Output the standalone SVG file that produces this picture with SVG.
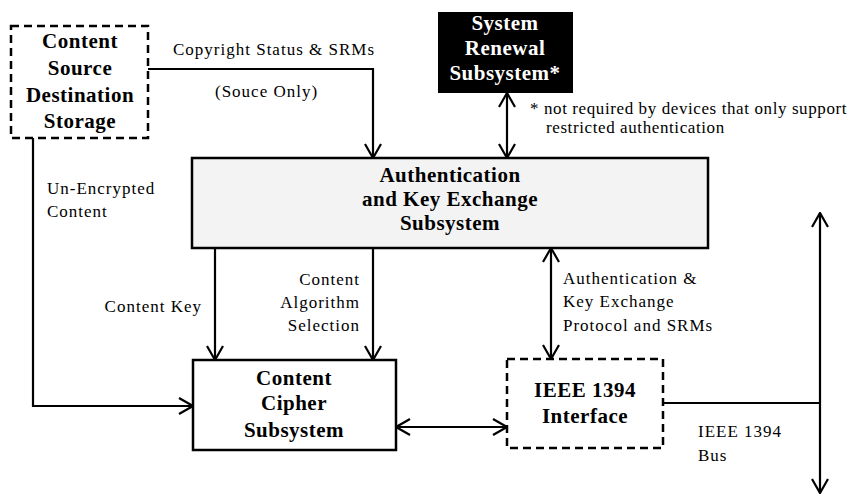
<svg xmlns="http://www.w3.org/2000/svg" width="859" height="497" viewBox="0 0 859 497">
<style>
.box{fill:#fff;stroke:#000;stroke-width:2.5}
.dash{fill:#fff;stroke:#000;stroke-width:2.5;stroke-dasharray:8 5}
.b{font-family:"Liberation Serif","Times New Roman",serif;font-weight:bold;font-size:21px;letter-spacing:0.5px;text-anchor:middle;fill:#000}
.t{font-family:"Liberation Serif","Times New Roman",serif;font-size:17px;letter-spacing:1px;fill:#000}
.r{text-anchor:end}
.ln{fill:none;stroke:#000;stroke-width:2.2}
</style>
<defs>
<marker id="ah" markerUnits="userSpaceOnUse" viewBox="0 0 16 18" refX="15" refY="9" markerWidth="16" markerHeight="18" orient="auto-start-reverse">
<path d="M1,1 L15,9 L1,17" fill="none" stroke="#000" stroke-width="2.2"/>
</marker>
</defs>
<g id="connectors">
<path class="ln" d="M148,69 H373 V158" marker-end="url(#ah)"/>
<path class="ln" d="M507,93 V158" marker-start="url(#ah)" marker-end="url(#ah)"/>
<path class="ln" d="M33,138 V406 H193" marker-end="url(#ah)"/>
<path class="ln" d="M215,249 V360" marker-end="url(#ah)"/>
<path class="ln" d="M373,249 V360" marker-end="url(#ah)"/>
<path class="ln" d="M551,248 V359" marker-start="url(#ah)" marker-end="url(#ah)"/>
<path class="ln" d="M396,427 H507" marker-start="url(#ah)" marker-end="url(#ah)"/>
<path class="ln" d="M663,403 H820"/>
<path class="ln" d="M820,213 V493" marker-start="url(#ah)" marker-end="url(#ah)"/>
<text class="t" x="173" y="55">Copyright Status &amp; SRMs</text>
<text class="t" x="215" y="97">(Souce Only)</text>
<text class="t" x="47" y="194">Un-Encrypted</text>
<text class="t" x="47" y="217">Content</text>
<text class="t r" x="202" y="312">Content Key</text>
<text class="t r" x="360" y="285">Content</text>
<text class="t r" x="360" y="308">Algorithm</text>
<text class="t r" x="360" y="331">Selection</text>
<text class="t" x="563" y="284">Authentication &amp;</text>
<text class="t" x="563" y="307">Key Exchange</text>
<text class="t" x="563" y="331">Protocol and SRMs</text>
<text class="t" x="698" y="437">IEEE 1394</text>
<text class="t" x="698" y="461">Bus</text>
</g>
<g id="storage">
<rect class="dash" x="11" y="26" width="137" height="112"/>
<text class="b" x="80" y="48">Content</text>
<text class="b" x="80" y="75">Source</text>
<text class="b" x="80" y="102">Destination</text>
<text class="b" x="80" y="128">Storage</text>
</g>
<g id="renewal">
<rect x="438" y="12" width="135" height="81" fill="#000"/>
<text class="b" x="505" y="30" fill="#fff" style="fill:#fff">System</text>
<text class="b" x="505" y="55" style="fill:#fff">Renewal</text>
<text class="b" x="505" y="80" style="fill:#fff">Subsystem*</text>
</g>
<g id="note">
<text class="t" x="530" y="114" style="letter-spacing:0.6px">* not required by devices that only support</text>
<text class="t" x="546" y="133" style="letter-spacing:0.6px">restricted authentication</text>
</g>
<g id="auth">
<rect class="box" x="192" y="158" width="516" height="90" style="fill:#f3f3f3"/>
<text class="b" x="450" y="182">Authentication</text>
<text class="b" x="450" y="206">and Key Exchange</text>
<text class="b" x="450" y="230">Subsystem</text>
</g>
<g id="cipher">
<rect class="box" x="193" y="360" width="203" height="90"/>
<text class="b" x="294" y="385">Content</text>
<text class="b" x="294" y="410">Cipher</text>
<text class="b" x="294" y="437">Subsystem</text>
</g>
<g id="ieee">
<rect class="dash" x="507" y="359" width="156" height="89"/>
<text class="b" x="585" y="397">IEEE 1394</text>
<text class="b" x="585" y="423">Interface</text>
</g>
</svg>
